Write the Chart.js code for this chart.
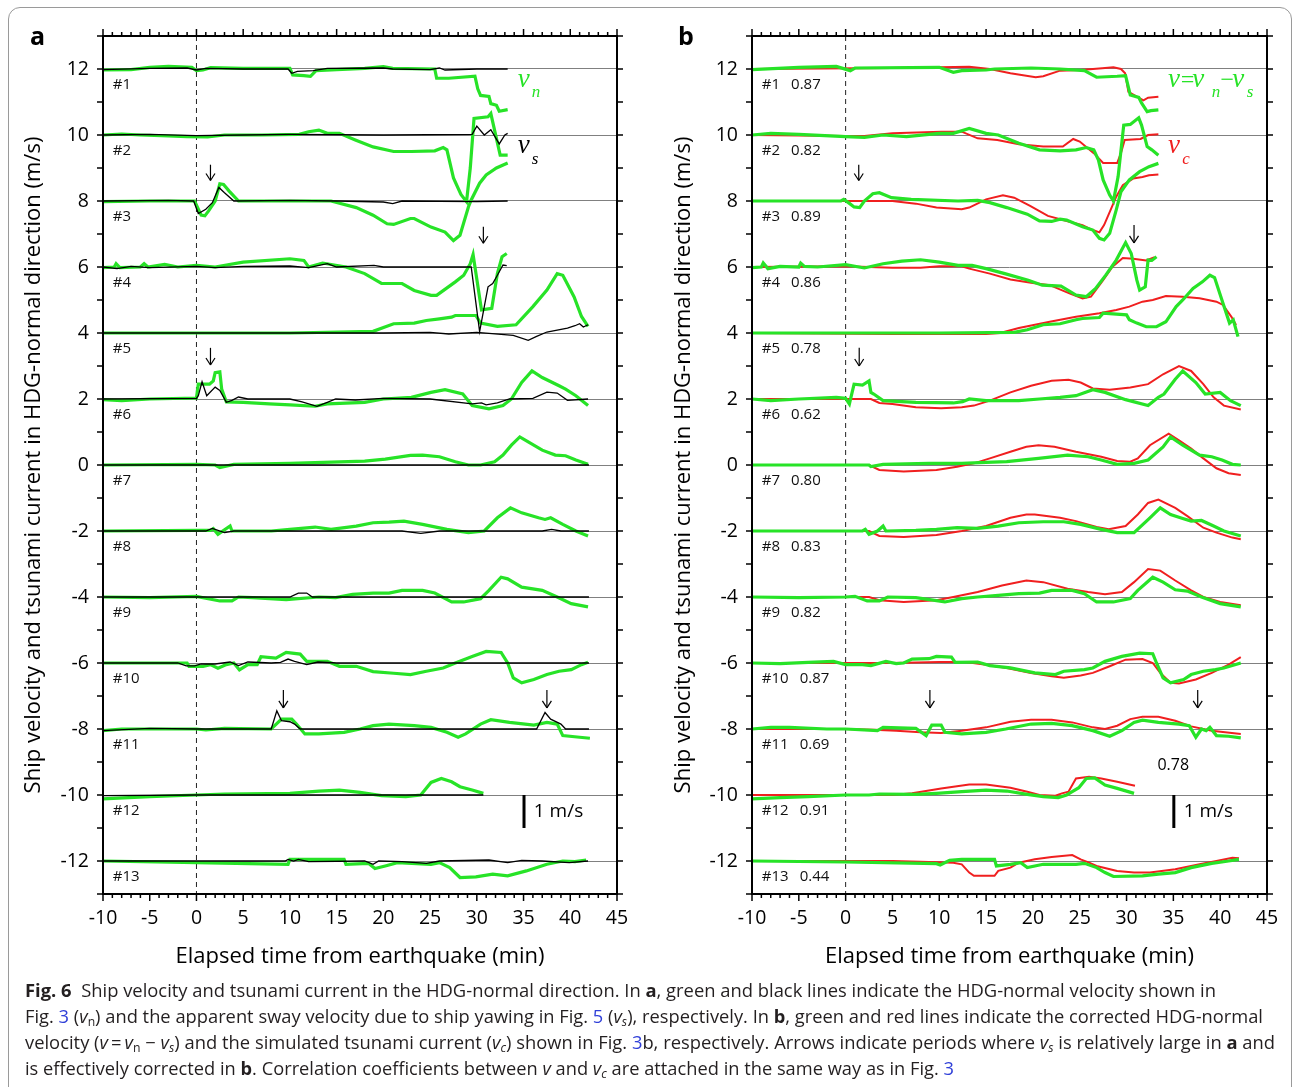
<!DOCTYPE html>
<html>
<head>
<meta charset="utf-8">
<script src="https://cdn.jsdelivr.net/npm/chart.js@4.4.0/dist/chart.umd.min.js"></script>
<style>
  body { margin: 0; background: #fff; font-family: 'Open Sans', sans-serif; color: #000; }
  #page { position: relative; width: 1293px; height: 1087px; overflow: hidden; }
  #frame { position: absolute; left: 8px; top: 7px; width: 1282px; height: 1110px; border: 1.5px solid #9a9a9a; border-radius: 12px; }
  #chartA { position: absolute; left: 0; top: 0; }
  #chartB { position: absolute; left: 650px; top: 0; }
  .tag { position: absolute; top: 20px; font-weight: bold; font-size: 25px; line-height: 30px; }
  #caption { position: absolute; left: 25px; top: 977px; font-size: 18px; line-height: 26px; color: #231f20; }
  .cl { display: inline-block; white-space: nowrap; transform-origin: 0 50%; }
  .cl a { color: #2f3fd8; text-decoration: none; }
  .cl sub { font-size: 12px; vertical-align: -3px; line-height: 0; }
</style>
</head>
<body>
<div id="page">
  <div id="frame"></div>
  <canvas id="chartA" width="650" height="980"></canvas>
  <canvas id="chartB" width="643" height="980"></canvas>
  <div class="tag" style="left:30px">a</div>
  <div class="tag" style="left:678px">b</div>
  <div id="caption">
    <span class="cl"><b>Fig. 6</b>&nbsp; Ship velocity and tsunami current in the HDG-normal direction. In <b>a</b>, green and black lines indicate the HDG-normal velocity shown in</span><br>
    <span class="cl">Fig. <a>3</a> (<i>v</i><sub>n</sub>) and the apparent sway velocity due to ship yawing in Fig. <a>5</a> (<i>v<sub>s</sub></i>), respectively. In <b>b</b>, green and red lines indicate the corrected HDG-normal</span><br>
    <span class="cl">velocity (<i>v</i>&thinsp;=&thinsp;<i>v</i><sub>n</sub> &minus; <i>v<sub>s</sub></i>) and the simulated tsunami current (<i>v<sub>c</sub></i>) shown in Fig. <a>3</a>b, respectively. Arrows indicate periods where <i>v<sub>s</sub></i> is relatively large in <b>a</b> and</span><br>
    <span class="cl">is effectively corrected in <b>b</b>. Correlation coefficients between <i>v</i> and <i>v<sub>c</sub></i> are attached in the same way as in Fig. <a>3</a></span>
  </div>
</div>
<script>
// axis ticks
const xTicks = [-10, -5, 0, 5, 10, 15, 20, 25, 30, 35, 40, 45];
const yTicks = [-12, -10, -8, -6, -4, -2, 0, 2, 4, 6, 8, 10, 12];

// ships, offsets and correlation coefficients
const shipLabels = ['#1', '#2', '#3', '#4', '#5', '#6', '#7', '#8', '#9', '#10', '#11', '#12', '#13'];
const baselines = [12, 10, 8, 6, 4, 2, 0, -2, -4, -6, -8, -10, -12];
const corrCoefs = ['0.87', '0.82', '0.89', '0.86', '0.78', '0.62', '0.80', '0.83', '0.82', '0.87', '0.69', '0.91', '0.44'];

// panel a: HDG-normal velocity vn (green), [min, m/s + offset]
const vn1 = [[-10,11.97],[-7,11.98],[-5,12.05],[-3,12.08],[-0.5,12.05],[0,11.95],[0.7,11.97],[1.5,12.04],[5,12.02],[10,12.02],[10.3,11.82],[11.5,11.8],[12.2,11.78],[12.8,11.95],[15,11.98],[18,12.02],[20,12.07],[21,12.02],[25.5,12.0],[25.7,11.72],[27,11.72],[29.8,11.78],[30.1,11.4],[30.4,11.2],[31.3,11.17],[31.5,10.95],[32.1,10.9],[32.4,10.72],[33.3,10.77]];
const vn2 = [[-10,10.0],[-8,10.03],[-6,10.0],[-3,9.97],[-1,9.95],[1.2,9.94],[3,10.0],[7,10.0],[11,10.02],[12,10.1],[13.1,10.15],[14,10.05],[15.3,10.05],[17,9.85],[18.9,9.64],[21.1,9.5],[23,9.5],[25.5,9.52],[26.4,9.62],[26.8,9.55],[27.5,8.7],[28.3,8.2],[28.9,7.98],[29.3,9.0],[29.7,10.5],[31.2,10.55],[31.5,10.65],[32.5,9.39],[33.3,9.39]];
const vn3 = [[-10,7.98],[-5,8.0],[-0.2,8.0],[0.5,7.57],[0.9,7.55],[1.3,7.7],[2.0,8.0],[2.5,8.52],[2.9,8.5],[3.5,8.3],[4.5,8.0],[8,8.0],[14.4,8.0],[17.1,7.8],[18.9,7.57],[20.4,7.31],[21.1,7.29],[22.9,7.47],[23.3,7.47],[25.1,7.21],[26.6,7.06],[27.5,6.8],[28.2,6.96],[29.1,7.82],[29.4,8.03],[30.3,8.54],[31.0,8.79],[32.1,9.0],[33.3,9.15]];
const vn4 = [[-10,5.98],[-8.8,6.0],[-8.6,6.1],[-8.2,5.98],[-6,6.0],[-5.6,6.1],[-5.2,6.0],[-3.4,6.08],[-2,6.0],[0,6.05],[2,6.0],[5,6.15],[10,6.25],[11.5,6.2],[12,6.0],[13.5,6.12],[16,6.0],[18,5.8],[19.8,5.5],[22,5.5],[23.3,5.29],[25.1,5.14],[25.7,5.14],[27.7,5.55],[28.6,5.75],[29.3,6.1],[29.6,6.38],[30.5,4.7],[31.6,4.75],[32.2,5.8],[32.7,6.31],[33.2,6.41]];
const vn5 = [[-10,4.0],[0,4.0],[10,4.0],[18.9,4.05],[21.1,4.28],[23.3,4.3],[24.6,4.38],[26.0,4.43],[27.3,4.48],[27.7,4.53],[29.9,4.53],[30.4,4.3],[32.2,4.2],[34.2,4.25],[36.0,4.8],[37.5,5.3],[38.6,5.8],[39.2,5.75],[40.4,5.1],[41.2,4.5],[41.9,4.2]];
const vn6 = [[-10,1.98],[-8,1.95],[-5,2.0],[0,2.03],[0.2,2.45],[1.4,2.45],[1.8,2.55],[2.0,2.8],[2.5,2.82],[2.7,2.3],[3.2,1.91],[5,1.9],[7.8,1.85],[10,1.82],[12.7,1.78],[14,1.85],[18,1.9],[20,2.0],[23,2.05],[25.1,2.2],[26.6,2.28],[28.5,2.15],[29.5,1.8],[31.3,1.7],[32.8,1.8],[33.7,2.0],[34.8,2.5],[35.9,2.85],[37.0,2.65],[38.8,2.4],[39.5,2.3],[40.6,2.1],[41.9,1.8]];
const vn7 = [[-10,0.0],[0,0.02],[2,0.0],[2.5,-0.08],[4,0.02],[10,0.05],[18,0.12],[20.2,0.18],[22.9,0.29],[24.2,0.3],[26,0.25],[27.7,0.1],[29.1,0.0],[30.4,0.0],[31.9,0.1],[32.8,0.3],[33.7,0.6],[34.6,0.85],[35.5,0.7],[37,0.45],[38.4,0.3],[39.5,0.28],[40.6,0.15],[41.9,0.02]];
const vn8 = [[-10,-2.0],[0,-1.98],[1.5,-1.98],[1.8,-1.93],[2.3,-2.1],[3.6,-1.85],[3.8,-2.0],[8,-2.0],[10,-1.95],[12.7,-1.88],[14.4,-1.95],[17.1,-1.85],[18.9,-1.75],[20.6,-1.73],[22.2,-1.7],[24.2,-1.8],[26.8,-1.95],[29.1,-2.05],[30.8,-2.0],[32.2,-1.6],[33.6,-1.3],[34.8,-1.45],[36.6,-1.6],[37.3,-1.65],[37.9,-1.6],[39.2,-1.8],[40.6,-2.0],[41.9,-2.15]];
const vn9 = [[-10,-4.0],[-5,-4.02],[0,-3.98],[2.5,-4.12],[3.8,-4.12],[4.5,-4.0],[6,-4.02],[9.6,-4.08],[13.1,-4.0],[14.9,-4.02],[16.7,-3.92],[18.9,-3.88],[20.6,-3.88],[22,-3.8],[24.2,-3.8],[25.5,-3.88],[27.3,-4.15],[28.6,-4.15],[30.4,-4.05],[31.3,-3.8],[32.6,-3.4],[33.3,-3.45],[34.8,-3.7],[37,-3.8],[38.6,-4.0],[40.1,-4.2],[41.9,-4.3]];
const vn10 = [[-10,-6.0],[-1,-6.0],[-0.8,-6.1],[0.7,-6.1],[1.5,-6.05],[2.3,-6.16],[3.2,-6.05],[4,-6.0],[4.6,-6.21],[5.5,-6.05],[6.5,-6.05],[6.9,-5.81],[8.5,-5.85],[9.6,-5.68],[11.1,-5.73],[11.8,-5.95],[14,-5.95],[15.3,-6.1],[17.1,-6.1],[18.9,-6.26],[21.1,-6.31],[22.9,-6.35],[24.6,-6.25],[26.4,-6.15],[27.7,-6.0],[29.5,-5.8],[31,-5.65],[32.6,-5.68],[33.3,-6.0],[33.9,-6.45],[34.8,-6.6],[36.1,-6.5],[37.5,-6.35],[38.8,-6.25],[40.1,-6.2],[41.2,-6.05],[41.9,-5.98]];
const vn11 = [[-10,-8.05],[-8,-8.0],[0,-8.0],[1,-8.03],[3,-7.98],[8,-8.0],[9.1,-7.7],[10.2,-7.7],[10.7,-7.85],[11.6,-8.15],[13.1,-8.15],[15.8,-8.1],[17.5,-8.0],[18.9,-7.9],[20.6,-7.85],[23.3,-7.9],[25.1,-7.95],[26.8,-8.1],[28,-8.25],[28.8,-8.15],[30.4,-7.85],[31.5,-7.72],[33.5,-7.8],[36.1,-7.88],[37.5,-7.8],[38.6,-7.85],[39.2,-8.2],[41,-8.25],[42.1,-8.28]];
const vn12 = [[-10,-10.12],[-5,-10.05],[0,-10.0],[3,-9.97],[10,-9.95],[13.1,-9.88],[15.3,-9.85],[17.5,-9.92],[19.8,-10.02],[22.4,-10.05],[24,-10.0],[25.1,-9.62],[26.2,-9.5],[27.3,-9.6],[28.2,-9.75],[29.5,-9.85],[30.7,-9.95]];
const vn13 = [[-10,-12.0],[0,-12.05],[9.8,-12.1],[10,-11.95],[15.8,-11.95],[16,-12.1],[18.4,-12.07],[19.1,-12.23],[20.2,-12.15],[21.5,-12.05],[25.1,-12.1],[26,-12.05],[27.1,-12.2],[28.2,-12.5],[29.9,-12.48],[31.7,-12.4],[33.3,-12.45],[35.3,-12.3],[37.5,-12.1],[39.2,-12.0],[40.5,-12.02],[41.7,-11.97]];

// panel a: apparent sway velocity vs (black)
const vs1 = [[-10,11.98],[-5,12.02],[-1,12.03],[0,11.97],[1,12.02],[5,12.0],[9.8,12.0],[10.2,11.87],[10.8,11.93],[12.5,11.95],[14,12.02],[20,12.03],[21,12.0],[25,11.98],[26,12.03],[26.6,11.97],[30,12.0],[33.3,12.0]];
const vs2 = [[-10,10.0],[-5,10.02],[0,9.98],[5,10.0],[10,10.02],[20,10.0],[29.5,10.02],[30.0,10.27],[30.8,10.0],[31.5,10.16],[32.4,9.73],[33.0,10.0],[33.3,10.05]];
const vs3 = [[-10,8.0],[-3,8.02],[-0.3,8.0],[0.2,7.62],[1.0,7.75],[1.7,7.95],[2.4,8.41],[3.0,8.25],[4.0,8.0],[10,8.02],[15,8.0],[20,7.97],[21,7.92],[22,8.0],[30,7.98],[33.3,8.0]];
const vs4 = [[-10,6.0],[-8.5,5.95],[-7,6.02],[-5,5.98],[0,6.02],[2,5.98],[5,6.02],[10,6.03],[12,5.98],[14,6.1],[15,6.0],[19,6.05],[20,6.0],[29.4,6.0],[30.3,4.04],[30.8,4.8],[31.2,5.4],[31.7,5.5],[32.2,5.75],[32.8,6.06],[33.2,6.04]];
const vs5 = [[-10,4.0],[10,4.0],[20,4.0],[25,4.02],[27,3.97],[30,4.02],[33.9,3.93],[35.5,3.78],[36.4,3.9],[37.5,4.03],[39.7,4.15],[40.5,4.22],[41,4.28],[41.4,4.18],[41.9,4.25]];
const vs6 = [[-10,2.0],[0,2.02],[0.2,2.1],[0.6,2.52],[1.1,2.1],[2.0,2.36],[2.5,2.26],[3.2,1.9],[3.8,1.96],[4.5,2.06],[5.5,2.0],[10,2.0],[11.3,1.91],[12.9,1.78],[14,1.9],[14.9,2.0],[17,1.97],[20,2.02],[25,2.0],[29.5,1.85],[30.5,1.88],[31,1.82],[32.2,1.88],[33.5,2.0],[36,2.02],[37.5,2.21],[38.6,2.18],[39.7,1.96],[41.9,2.0]];
const vs7 = [[-10,0.0],[10,0.0],[20,0.0],[30,0.0],[42,0.0]];
const vs8 = [[-10,-2.0],[1,-2.0],[1.7,-1.92],[3,-2.05],[4,-2.0],[22,-2.0],[24,-2.07],[26,-2.0],[37,-2.0],[38,-1.95],[39,-2.0],[42,-2.0]];
const vs9 = [[-10,-4.0],[10,-4.0],[10.9,-3.88],[11.8,-3.88],[12.4,-4.0],[20,-4.0],[42,-4.0]];
const vs10 = [[-10,-6.0],[-2,-6.0],[-1.1,-6.09],[-0.2,-6.09],[0.5,-6.03],[2,-6.03],[3.6,-5.97],[4.5,-6.08],[5.5,-5.97],[8,-6.0],[9,-5.98],[9.8,-5.88],[10.5,-5.95],[11.8,-6.05],[13,-5.97],[15,-6.0],[42,-6.0]];
const vs11 = [[-10,-8.05],[-5,-7.98],[0,-8.0],[8,-8.0],[8.6,-7.45],[9.1,-7.75],[10,-7.78],[10.5,-7.85],[11.1,-8.0],[20,-8.0],[36.4,-8.0],[37.3,-7.5],[37.9,-7.7],[39,-7.85],[39.5,-8.0],[42,-8.0]];
const vs12 = [[-10,-10.02],[0,-10.0],[10,-10.0],[20,-10.0],[30.7,-10.0]];
const vs13 = [[-10,-12.0],[9.5,-12.0],[9.8,-11.95],[10.4,-12.0],[10.9,-11.95],[12,-12.02],[18,-12.0],[18.9,-12.1],[19.5,-12.0],[22,-12.02],[24.6,-12.07],[26,-12.0],[31.3,-11.97],[33.3,-12.05],[34.8,-11.98],[37,-12.0],[39.9,-12.05],[41.9,-12.0]];

// panel b: corrected velocity v (green)
const v1 = [[-10,11.98],[-5,12.05],[-1,12.08],[0.5,11.95],[1,12.03],[10,12.05],[11.5,11.9],[12.4,11.95],[15,11.97],[15.9,12.0],[19.8,12.03],[22.9,12.0],[25.5,11.95],[26.8,11.75],[29.0,11.78],[29.9,11.8],[30.4,11.21],[31.3,11.14],[31.6,10.97],[32.2,10.71],[32.6,10.74],[33.4,10.76]];
const v2 = [[-10,10.0],[-8,10.05],[-5,10.02],[0,9.95],[2,9.93],[4,10.0],[6.5,9.95],[10,10.05],[11.5,10.05],[13.2,10.2],[15,10.05],[16.3,10.0],[18.5,9.75],[20.7,9.55],[22.9,9.52],[24.6,9.55],[25.7,9.62],[26.5,9.55],[27.0,9.24],[27.5,8.64],[28.2,8.18],[28.6,8.0],[29.1,8.74],[29.7,10.3],[30.4,10.32],[31.3,10.52],[31.6,10.3],[32.2,9.65],[32.7,9.55],[33.4,9.39]];
const v3 = [[-10,8.0],[-0.5,8.0],[-0.2,8.05],[0.3,7.95],[0.9,7.82],[1.5,7.8],[2.0,8.0],[2.9,8.22],[3.6,8.25],[4.9,8.1],[7,8.05],[12,8.0],[14.1,8.02],[15.4,7.95],[17.2,7.8],[19.4,7.6],[20.7,7.4],[22,7.38],[22.9,7.45],[23.6,7.42],[25.3,7.22],[26.4,7.12],[27.1,6.87],[27.6,6.82],[28.2,7.02],[28.9,7.73],[29.4,8.28],[30.3,8.64],[31.4,8.89],[32.4,9.04],[33.4,9.14]];
const v4 = [[-10,5.98],[-9,6.0],[-8.8,6.12],[-8.3,5.95],[-7,6.02],[-5,6.0],[-4.8,6.12],[-4.4,6.02],[-3,6.0],[0,6.07],[2,5.97],[4,6.1],[6,6.18],[8,6.22],[10,6.15],[12,6.05],[13.5,6.05],[15,5.95],[17,5.8],[19.5,5.6],[21,5.45],[23,5.42],[24.6,5.15],[25.7,5.1],[26.7,5.35],[27.8,5.76],[28.9,6.21],[29.9,6.74],[30.5,6.41],[31.1,5.6],[31.4,5.3],[32.0,5.4],[32.3,6.21],[32.7,6.2],[33.2,6.31]];
const v5 = [[-10,4.0],[10,4.0],[18,4.02],[19.4,4.1],[21.1,4.25],[22.9,4.28],[24.6,4.4],[25.3,4.44],[27.1,4.47],[27.5,4.6],[30,4.55],[30.3,4.4],[31.1,4.3],[32.1,4.19],[33.2,4.19],[34.2,4.34],[35.3,4.8],[36,5.0],[37.1,5.35],[38.1,5.55],[38.9,5.75],[39.4,5.68],[40.3,4.9],[41,4.3],[41.4,4.4],[41.9,3.89]];
const v6 = [[-10,2.0],[-8,1.95],[-5,2.0],[-1,2.05],[0,2.02],[0.4,1.85],[0.9,2.45],[1.8,2.42],[2.5,2.55],[2.7,2.2],[3.0,2.15],[4,1.95],[7.5,1.9],[11.5,1.88],[12.5,1.92],[13.2,2.0],[15,1.95],[18.5,1.95],[20.7,2.0],[22.9,2.05],[24.6,2.1],[26.4,2.28],[27.7,2.2],[29.9,1.98],[32.3,1.8],[33.4,2.05],[34.0,2.15],[35.2,2.6],[36,2.85],[37.4,2.5],[38.4,2.15],[40,2.2],[41.1,1.95],[42.2,1.8]];
const v7 = [[-10,0.0],[2.5,0.0],[2.7,-0.05],[4,0.02],[8.9,0.05],[12.4,0.05],[15,0.08],[17.2,0.1],[20.6,0.2],[23.7,0.3],[25.9,0.25],[27.3,0.15],[29,0.02],[30.8,0.05],[32.3,0.15],[33.9,0.55],[34.7,0.85],[36,0.6],[37.8,0.3],[39.1,0.25],[40.2,0.15],[41.3,0.02],[42.2,0.0]];
const v8 = [[-10,-2.0],[1.8,-2.0],[2.1,-1.95],[2.5,-2.1],[3.4,-2.0],[4,-1.85],[4.3,-2.0],[7.5,-1.98],[9.7,-1.95],[11.9,-1.9],[14.1,-1.92],[16.3,-1.85],[18.5,-1.75],[21.1,-1.72],[23.3,-1.72],[25.1,-1.8],[27.3,-1.95],[29,-2.05],[30.8,-2.05],[32.5,-1.6],[33.6,-1.3],[34.7,-1.5],[36,-1.62],[36.9,-1.7],[38,-1.68],[39.3,-1.85],[40.4,-2.0],[42.2,-2.15]];
const v9 = [[-10,-4.0],[-5,-4.02],[0,-4.0],[1,-3.98],[2.3,-4.12],[3.6,-4.12],[4.5,-4.0],[7.5,-4.02],[10.6,-4.15],[12.4,-4.05],[14.1,-4.0],[16.3,-3.95],[18.5,-3.9],[20.7,-3.88],[22,-3.8],[24.2,-3.8],[25.5,-3.9],[26.8,-4.15],[28.6,-4.15],[30.4,-4.05],[31.2,-3.8],[32.8,-3.4],[33.9,-3.55],[35.2,-3.78],[36.5,-3.82],[38,-4.0],[40,-4.2],[42.2,-4.3]];
const v10 = [[-10,-6.0],[-7,-6.02],[-4,-5.98],[-1.3,-5.95],[0,-6.05],[1.8,-6.05],[2.7,-6.08],[4.3,-5.95],[5.4,-6.02],[6.2,-6.0],[7.1,-5.88],[8.9,-5.87],[9.7,-5.8],[11.3,-5.82],[11.7,-5.98],[14.1,-5.97],[15.4,-6.08],[17.6,-6.15],[20.2,-6.3],[22.4,-6.35],[23.3,-6.25],[25.5,-6.2],[26.4,-6.15],[27.7,-5.95],[29.5,-5.8],[31.4,-5.7],[32.8,-5.72],[33.2,-6.0],[33.9,-6.45],[34.7,-6.6],[36.1,-6.5],[36.9,-6.35],[38.2,-6.25],[39.5,-6.2],[40.4,-6.15],[42.2,-6.0]];
const v11 = [[-10,-8.0],[-8,-7.95],[-6,-7.95],[-2,-8.0],[0,-8.0],[3.4,-8.05],[4,-7.95],[7.5,-7.98],[8.6,-8.2],[9.2,-7.88],[10.2,-7.88],[10.6,-8.1],[12.4,-8.15],[15,-8.1],[17.1,-8.0],[19.8,-7.85],[22,-7.83],[24.2,-7.9],[26.4,-8.05],[28.2,-8.22],[29.5,-8.05],[30.8,-7.8],[31.7,-7.73],[33.4,-7.8],[35.6,-7.85],[36.7,-7.9],[37.4,-8.25],[38,-8.0],[38.5,-8.05],[38.9,-7.95],[39.6,-8.2],[40.9,-8.22],[42.2,-8.27]];
const v12 = [[-10,-10.12],[-7,-10.08],[-4,-10.05],[0,-10.0],[2.5,-10.0],[3.6,-9.97],[7.5,-9.98],[9.7,-9.95],[12.4,-9.9],[15,-9.85],[17.2,-9.88],[19.4,-9.98],[21.1,-10.05],[22.7,-10.08],[23.6,-10.0],[24.2,-9.9],[24.9,-9.78],[25.7,-9.5],[26.6,-9.48],[27.7,-9.7],[29,-9.8],[30.8,-9.95]];
const v13 = [[-10,-12.0],[0,-12.03],[9.7,-12.08],[10.1,-12.12],[11.1,-11.98],[12.4,-11.95],[15.9,-11.95],[16.1,-12.15],[17.6,-12.1],[18.7,-12.05],[19.4,-12.2],[21.1,-12.1],[24.6,-12.1],[25.5,-12.07],[26.8,-12.2],[27.7,-12.35],[28.6,-12.47],[31.7,-12.45],[33.4,-12.4],[35.2,-12.35],[36.9,-12.2],[39.1,-12.07],[40.9,-12.0],[42,-11.95]];

// panel b: simulated tsunami current vc (red)
const vc1 = [[-10,12.0],[5,12.03],[10,12.05],[13.2,12.07],[15.4,12.0],[17.6,11.87],[20.3,11.75],[21.1,11.78],[22.9,11.95],[25.1,11.97],[27.4,12.02],[28.6,12.05],[29.4,12.0],[29.85,11.87],[30.2,11.31],[31.1,11.16],[31.8,11.05],[32.3,11.13],[33.4,11.16]];
const vc2 = [[-10,10.0],[0,9.97],[2,9.97],[5,10.05],[10.2,10.1],[12.4,10.1],[14.1,9.9],[16.2,9.85],[18.5,9.72],[21.1,9.65],[23.2,9.65],[24.3,9.88],[25.0,9.8],[26.5,9.45],[27.5,9.15],[29.0,9.15],[29.4,9.45],[29.8,9.85],[31.5,9.88],[32.3,10.0],[33.4,10.02]];
const vc3 = [[-10,8.0],[5,8.0],[7.5,7.92],[9.7,7.8],[12.4,7.75],[13.2,7.8],[15.0,8.05],[16.8,8.17],[18,8.1],[19.7,7.85],[21.6,7.55],[23.9,7.37],[25.3,7.27],[26.4,7.12],[27.1,7.05],[27.6,7.27],[28.3,7.73],[28.9,8.13],[29.6,8.48],[30.7,8.68],[31.7,8.73],[32.4,8.78],[33.4,8.8]];
const vc4 = [[-10,6.0],[0,6.02],[5,5.98],[8,5.98],[10,6.02],[12.4,6.02],[13.2,5.95],[15.4,5.8],[17.6,5.62],[19.8,5.52],[21.8,5.45],[23.9,5.2],[25.3,5.05],[26.2,5.1],[27.5,5.6],[28.5,6.01],[29.6,6.27],[30.7,6.25],[32.1,6.2],[33,6.3]];
const vc5 = [[-10,4.0],[5,3.97],[15,3.97],[16.5,4.0],[18.5,4.15],[21.8,4.34],[24.6,4.49],[27.1,4.6],[28.9,4.7],[30.3,4.8],[31.7,4.95],[32.8,5.0],[34.2,5.12],[36,5.1],[37.8,5.05],[39.6,4.95],[40.3,4.85],[41.2,4.49],[41.7,4.24]];
const vc6 = [[-10,2.0],[2.7,2.0],[3.6,1.88],[5,1.85],[7.5,1.75],[10.2,1.72],[12.4,1.75],[13.7,1.8],[15.4,1.95],[17.6,2.2],[19.8,2.4],[22,2.55],[23.8,2.58],[25.1,2.5],[26.4,2.32],[28.2,2.28],[30.4,2.35],[32.3,2.45],[33.9,2.75],[35.6,3.0],[36.9,2.85],[38.2,2.45],[39.3,2.05],[40.4,1.8],[42.2,1.68]];
const vc7 = [[-10,0.0],[2.5,0.0],[3.6,-0.15],[6.2,-0.2],[9.7,-0.15],[11.9,-0.05],[13.7,0.05],[15.4,0.2],[17.6,0.4],[19.3,0.55],[20.6,0.6],[22.3,0.55],[24.6,0.4],[27.3,0.25],[29,0.12],[30.4,0.1],[31.2,0.2],[32.5,0.6],[34.5,0.95],[35.6,0.75],[36.9,0.5],[38.2,0.2],[39.6,-0.1],[40.9,-0.25],[42.2,-0.3]];
const vc8 = [[-10,-2.0],[2.5,-2.0],[3.6,-2.15],[6.2,-2.18],[9.7,-2.12],[12.4,-2.0],[15,-1.85],[17.6,-1.6],[19.3,-1.5],[20.2,-1.5],[22.9,-1.6],[24.6,-1.7],[26.8,-1.88],[28.1,-1.95],[29.9,-1.85],[31.2,-1.5],[32.3,-1.15],[33.4,-1.05],[35.2,-1.3],[36.5,-1.55],[38.2,-1.9],[39.6,-2.05],[41.3,-2.2],[42.2,-2.25]];
const vc9 = [[-10,-4.0],[2.5,-4.0],[3.6,-4.1],[6.2,-4.15],[9.7,-4.1],[11.5,-4.0],[14.1,-3.85],[16.7,-3.65],[19.3,-3.5],[21.1,-3.55],[23.7,-3.75],[25.9,-3.85],[27.7,-3.92],[29.5,-3.85],[30.8,-3.55],[32.3,-3.15],[33.6,-3.2],[35.2,-3.5],[36.9,-3.8],[38.2,-4.0],[40,-4.15],[42.2,-4.25]];
const vc10 = [[-10,-6.0],[5,-6.0],[10,-5.97],[12.8,-5.97],[15,-6.05],[17.2,-6.15],[19.8,-6.3],[22,-6.4],[23.3,-6.45],[25.1,-6.38],[26.4,-6.3],[28.2,-6.1],[29.9,-5.9],[31.7,-5.88],[32.8,-6.0],[33.6,-6.3],[34.7,-6.6],[35.6,-6.62],[37.4,-6.5],[39.1,-6.3],[40.9,-6.05],[42.2,-5.82]];
const vc11 = [[-10,-8.0],[0,-8.0],[3,-8.02],[5.4,-8.05],[8,-8.1],[10.2,-8.12],[12.4,-8.05],[15,-7.95],[17.6,-7.78],[19.8,-7.72],[22,-7.72],[24.2,-7.8],[26.4,-7.95],[27.7,-8.0],[29,-7.9],[30.4,-7.7],[31.7,-7.63],[33.4,-7.63],[35.2,-7.75],[36.9,-7.92],[39.1,-8.05],[42.2,-8.15]];
const vc12 = [[-10,-10.0],[5,-10.0],[7.1,-9.95],[10.2,-9.8],[13.2,-9.68],[15,-9.68],[17.6,-9.78],[19.4,-9.9],[20.7,-10.0],[22.4,-10.02],[23.1,-9.95],[23.8,-9.9],[24.6,-9.5],[26,-9.45],[27.3,-9.5],[29,-9.6],[30.9,-9.72]];
const vc13 = [[-10,-12.0],[5,-12.0],[8,-12.02],[11.5,-12.05],[12.4,-12.1],[13.2,-12.35],[13.7,-12.45],[15.9,-12.45],[16.3,-12.3],[17.6,-12.2],[18.5,-12.05],[20.2,-11.95],[22,-11.88],[24.2,-11.82],[25.1,-11.95],[26,-12.05],[26.8,-12.15],[29,-12.3],[30.8,-12.35],[32.5,-12.35],[35.2,-12.25],[37.8,-12.1],[39.6,-12.0],[41.3,-11.9],[42,-11.92]];

const vnList = [vn1, vn2, vn3, vn4, vn5, vn6, vn7, vn8, vn9, vn10, vn11, vn12, vn13];
const vsList = [vs1, vs2, vs3, vs4, vs5, vs6, vs7, vs8, vs9, vs10, vs11, vs12, vs13];
const vList = [v1, v2, v3, v4, v5, v6, v7, v8, v9, v10, v11, v12, v13];
const vcList = [vc1, vc2, vc3, vc4, vc5, vc6, vc7, vc8, vc9, vc10, vc11, vc12, vc13];

const GREEN = '#27e327';
const RED = '#f01f1f';
const BLACK = '#000000';
const FONT = "'Open Sans', sans-serif";
const MATH = "'Liberation Serif', 'DejaVu Serif', serif";

Chart.defaults.font.family = FONT;
Chart.defaults.color = '#000';

function line(ctx, x1, y1, x2, y2) {
    ctx.beginPath();
    ctx.moveTo(x1, y1);
    ctx.lineTo(x2, y2);
    ctx.stroke();
}

// frame, tick marks and all the in-plot annotations
const overlay = {
    id: 'overlay',
    beforeDatasetsDraw(chart) {
        const { ctx, chartArea: a, scales: { x } } = chart;
        const px = x.getPixelForValue(0);
        ctx.save();
        ctx.strokeStyle = '#222';
        ctx.lineWidth = 1;
        ctx.setLineDash([5, 4]);
        line(ctx, px, a.top, px, a.bottom);
        ctx.restore();
    },
    afterDraw(chart, args, o) {
        const { ctx, chartArea: a, scales: { x, y } } = chart;
        ctx.save();
        ctx.strokeStyle = '#000';
        ctx.lineWidth = 2;
        ctx.strokeRect(a.left, a.top, a.right - a.left, a.bottom - a.top);
        ctx.lineWidth = 1.5;
        for (let t = -10; t <= 45; t++) {
            const px = x.getPixelForValue(t);
            const len = t % 5 === 0 ? 7 : 4;
            line(ctx, px, a.top, px, a.top - len);
            line(ctx, px, a.bottom, px, a.bottom + len);
        }
        for (let v = -13; v <= 13; v++) {
            const py = y.getPixelForValue(v);
            line(ctx, a.left - 6, py, a.left, py);
            line(ctx, a.right, py, a.right + 6, py);
        }

        // ship numbers (and correlation coefficients)
        ctx.fillStyle = '#111';
        ctx.font = '15px ' + FONT;
        ctx.textBaseline = 'middle';
        ctx.textAlign = 'left';
        shipLabels.forEach((lab, i) => {
            const px = x.getPixelForValue(-8.95);
            const py = y.getPixelForValue(baselines[i] - 0.48);
            ctx.fillText(lab, px, py);
            if (o.corr) ctx.fillText(o.corr[i], px + ctx.measureText(lab).width + 11, py);
        });

        // arrows
        ctx.lineWidth = 1.2;
        ctx.strokeStyle = '#000';
        o.arrows.forEach(([t, top, tip]) => {
            const px = x.getPixelForValue(t);
            const py0 = y.getPixelForValue(top);
            const py1 = y.getPixelForValue(tip);
            line(ctx, px, py0, px, py1);
            line(ctx, px - 4.5, py1 - 7, px, py1);
            line(ctx, px + 4.5, py1 - 7, px, py1);
        });

        // 1 m/s scale bar
        ctx.lineWidth = 3;
        const bx = x.getPixelForValue(35.05);
        line(ctx, bx, y.getPixelForValue(-10), bx, y.getPixelForValue(-11));
        ctx.font = '19px ' + FONT;
        ctx.fillStyle = '#000';
        ctx.fillText('1 m/s', x.getPixelForValue(36.1), y.getPixelForValue(-10.5));

        // plain notes
        (o.notes || []).forEach(n => {
            ctx.font = n.size + 'px ' + FONT;
            ctx.fillStyle = '#000';
            ctx.fillText(n.text, x.getPixelForValue(n.t), y.getPixelForValue(n.v));
        });

        // math symbols v_n, v_s, v_c ...
        ctx.textBaseline = 'alphabetic';
        o.symbols.forEach(s => {
            ctx.font = 'italic ' + s.size + 'px ' + MATH;
            ctx.fillStyle = s.color;
            ctx.fillText(s.text, x.getPixelForValue(s.t), y.getPixelForValue(s.v));
        });
        ctx.restore();
    }
};

function series(data, color, width, order) {
    return { data, borderColor: color, borderWidth: width, pointRadius: 0, fill: false, tension: 0, order };
}

function makePanel(id, datasets, overlayOpts, yWidth, rightPad) {
    return new Chart(document.getElementById(id), {
        type: 'line',
        data: { datasets },
        options: {
            responsive: false,
            animation: false,
            devicePixelRatio: 1,
            layout: { padding: { top: 36, right: rightPad, bottom: 0, left: 0 } },
            plugins: { legend: { display: false }, tooltip: { enabled: false }, overlay: overlayOpts },
            scales: {
                x: {
                    type: 'linear', min: -10, max: 45,
                    afterBuildTicks: s => { s.ticks = xTicks.map(value => ({ value })); },
                    afterFit: s => { s.height = 86; },
                    grid: { display: false, drawTicks: false },
                    border: { display: false },
                    ticks: { color: '#000', font: { size: 19.5 }, padding: 13, maxRotation: 0 },
                    title: { display: true, text: 'Elapsed time from earthquake (min)', color: '#000', font: { size: 22 }, padding: { top: 0, bottom: 10 } }
                },
                y: {
                    type: 'linear', min: -13, max: 13,
                    afterBuildTicks: s => { s.ticks = yTicks.map(value => ({ value })); },
                    afterFit: s => { s.width = yWidth; },
                    grid: { color: '#808080', lineWidth: 1, drawTicks: false },
                    border: { display: false },
                    ticks: { color: '#000', font: { size: 19.5 }, padding: 14 },
                    title: { display: true, text: 'Ship velocity and tsunami current in HDG-normal direction (m/s)', color: '#000', font: { size: 22 }, padding: { top: 21, bottom: 0 } }
                }
            }
        },
        plugins: [overlay]
    });
}

const dsA = [];
vnList.forEach((d, i) => {
    dsA.push(series(d, GREEN, 3.2, 1));
    dsA.push(series(vsList[i], BLACK, 1.3, 0));
});
const dsB = [];
vList.forEach((d, i) => {
    dsB.push(series(vcList[i], RED, 2, 1));
    dsB.push(series(d, GREEN, 3.2, 0));
});

makePanel('chartA', dsA, {
    arrows: [[1.5, 9.1, 8.62], [30.7, 7.22, 6.72], [1.5, 3.55, 3.03], [9.3, -6.82, -7.36], [37.5, -6.82, -7.36]],
    symbols: [
        { text: 'v', t: 34.39, v: 11.46, size: 27, color: GREEN },
        { text: 'n', t: 35.88, v: 11.14, size: 17, color: GREEN },
        { text: 'v', t: 34.39, v: 9.45, size: 27, color: BLACK },
        { text: 's', t: 35.88, v: 9.13, size: 17, color: BLACK }
    ]
}, 103, 33);

makePanel('chartB', dsB, {
    corr: corrCoefs,
    arrows: [[1.4, 9.1, 8.62], [30.8, 7.27, 6.73], [1.45, 3.55, 3.0], [9.0, -6.82, -7.36], [37.6, -6.82, -7.36]],
    notes: [{ text: '0.78', t: 33.3, v: -9.1, size: 16 }],
    symbols: [
        { text: 'v', t: 34.44, v: 11.46, size: 27, color: GREEN },
        { text: '=', t: 35.62, v: 11.46, size: 24, color: GREEN },
        { text: 'v', t: 37.01, v: 11.46, size: 27, color: GREEN },
        { text: 'n', t: 39.1, v: 11.14, size: 17, color: GREEN },
        { text: '\u2212', t: 39.85, v: 11.46, size: 24, color: GREEN },
        { text: 'v', t: 41.28, v: 11.46, size: 27, color: GREEN },
        { text: 's', t: 42.85, v: 11.14, size: 17, color: GREEN },
        { text: 'v', t: 34.44, v: 9.45, size: 27, color: RED },
        { text: 'c', t: 35.94, v: 9.13, size: 17, color: RED }
    ]
}, 102, 26);

// fit caption lines to the widths of the printed lines
const captionWidths = [1191, 1238, 1250, 929];
document.querySelectorAll('.cl').forEach((el, i) => {
    const w = el.getBoundingClientRect().width;
    el.style.transform = 'scaleX(' + (captionWidths[i] / w) + ')';
});
</script>
</body>
</html>
